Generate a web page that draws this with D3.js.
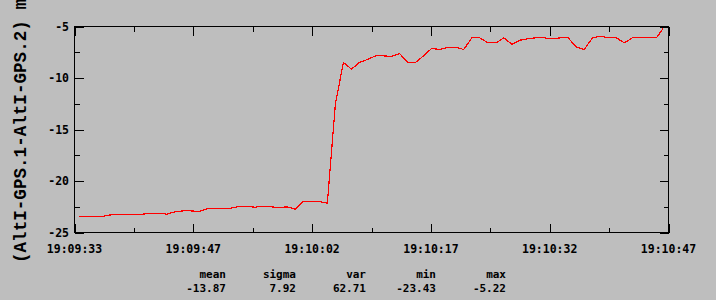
<!DOCTYPE html>
<html>
<head>
<meta charset="utf-8">
<script src="https://cdn.jsdelivr.net/npm/d3@7"></script>
<style>
  html, body { margin: 0; padding: 0; background: #bebebe; }
  svg { display: block; }
</style>
</head>
<body>
<svg id="chart" width="716" height="300"></svg>
<script>
// start of the trace, offsets below are seconds from it
const START = '19:09:33',
      END = '19:10:47';

const offsets = [
  0.5, 1.5, 2.5, 3.5, 4.5, 5.5, 6.5, 7.5, 8.5, 9.5,
  10.5, 11.5, 12.5, 13.5, 14.5, 15.5, 16.5, 17.5, 18.5, 19.5,
  20.5, 21.5, 22.5, 23.5, 24.5, 25.5, 26.5, 27.5, 28.5, 29.5,
  30.5, 31.5, 32.5, 33.5, 34.5, 35.5, 36.5, 37.5, 38.5, 39.5,
  40.5, 41.5, 42.5, 43.5, 44.5, 45.5, 46.5, 47.5, 48.5, 49.5,
  50.5, 51.5, 52.5, 53.5, 54.5, 55.5, 56.5, 57.5, 58.5, 59.5,
  60.5, 61.5, 62.5, 63.5, 64.5, 65.5, 66.5, 67.5, 68.5, 69.5,
  70.5, 71.5, 72.5, 73.3
];

// AltI-GPS.1 - AltI-GPS.2 (m)
const diff = [
  -23.43, -23.43, -23.43, -23.43, -23.29, -23.22, -23.22, -23.22, -23.22, -23.12,
  -23.12, -23.22, -22.99, -22.90, -22.90, -22.97, -22.70, -22.64, -22.64, -22.64,
  -22.48, -22.48, -22.54, -22.44, -22.51, -22.58, -22.51, -22.73, -22.00, -22.00,
  -22.00, -22.15, -12.53, -8.49, -9.14, -8.49, -8.20, -7.85, -7.85, -7.91,
  -7.62, -8.49, -8.49, -7.83, -7.13, -7.23, -7.03, -7.03, -7.23, -6.10,
  -6.10, -6.59, -6.59, -6.10, -6.74, -6.33, -6.18, -6.10, -6.10, -6.20,
  -6.10, -6.10, -6.98, -7.23, -6.13, -5.94, -6.10, -6.10, -6.59, -6.10,
  -6.10, -6.10, -6.10, -5.22
];

const yTicks = [-25, -20, -15, -10, -5];
const yLabel = '(AltI-GPS.1-AltI-GPS.2) m';

const statNames = ['mean', 'sigma', 'var', 'min', 'max'];
const statValues = ['-13.87', '7.92', '62.71', '-23.43', '-5.22'];

const LEFT = 74.5,
      RIGHT = 668.5,
      TOP = 26.5,
      BOTTOM = 232.5,
      MAJOR = 9,
      MINOR = 5,
      SERIF = '"Liberation Mono", "Courier New", monospace',
      SANS = '"DejaVu Sans Mono", monospace';

const parse = d3.timeParse('%H:%M:%S'),
      fmt = d3.timeFormat('%H:%M:%S');
const t0 = parse(START), t1 = parse(END);

const x = d3.scaleTime().domain([t0, t1]).range([LEFT, RIGHT]);
const y = d3.scaleLinear().domain([-25, -5]).range([BOTTOM, TOP]);

// five even steps across the window, labels just cut the seconds
const step = (t1 - t0) / 5;
const xMajor = d3.range(6).map(i => new Date(+t0 + i * step));
const xMinor = d3.range(5).map(i => new Date(+t0 + (i + 0.5) * step));
const yMinor = d3.range(4).map(i => yTicks[i] + 2.5);

const svg = d3.select('#chart');

svg.append('rect')
    .attr('width', 716).attr('height', 300)
    .attr('fill', '#bebebe');

const g = svg.append('g')
    .attr('stroke', '#000')
    .attr('stroke-width', 1)
    .attr('shape-rendering', 'crispEdges');

// ticks on all four sides, pointing inward
function vTicks(vals, len) {
  vals.forEach(v => {
    const px = Math.round(x(v)) + 0.5;
    g.append('line').attr('x1', px).attr('x2', px).attr('y1', BOTTOM).attr('y2', BOTTOM - len);
    g.append('line').attr('x1', px).attr('x2', px).attr('y1', TOP).attr('y2', TOP + len);
  });
}
function hTicks(vals, len) {
  vals.forEach(v => {
    const py = Math.round(y(v)) + 0.5;
    g.append('line').attr('y1', py).attr('y2', py).attr('x1', LEFT).attr('x2', LEFT + len);
    g.append('line').attr('y1', py).attr('y2', py).attr('x1', RIGHT).attr('x2', RIGHT - len);
  });
}
vTicks(xMajor, MAJOR);
vTicks(xMinor, MINOR);
hTicks(yTicks, MAJOR);
hTicks(yMinor, MINOR);

g.append('rect')
    .attr('x', LEFT).attr('y', TOP)
    .attr('width', RIGHT - LEFT).attr('height', BOTTOM - TOP)
    .attr('fill', 'none');

const line = d3.line()
    .x((d, i) => x(new Date(+t0 + offsets[i] * 1000)))
    .y(d => y(d));

svg.append('path')
    .datum(diff)
    .attr('d', line)
    .attr('fill', 'none')
    .attr('stroke', '#ff0000')
    .attr('stroke-width', 1.2)
    .attr('shape-rendering', 'crispEdges');

const txt = svg.append('g')
    .attr('font-family', SANS)
    .attr('font-weight', 'bold')
    .attr('font-size', 11.5)
    .attr('fill', '#000');

txt.selectAll('.xl')
    .data(xMajor)
    .enter().append('text')
    .attr('x', d => x(d))
    .attr('y', 253)
    .attr('text-anchor', 'middle')
    .text(d => fmt(d));

txt.selectAll('.yl')
    .data(yTicks)
    .enter().append('text')
    .attr('x', 69)
    .attr('y', d => y(d) + 4)
    .attr('text-anchor', 'end')
    .text(d => d);

txt.append('text')
    .attr('transform', 'translate(26,263) rotate(-90)')
    .attr('font-family', SERIF)
    .attr('font-size', 17.6)
    .text(yLabel);

statNames.forEach((s, i) => {
  const sx = 226 + i * 70;
  txt.append('text').attr('x', sx).attr('y', 278).attr('text-anchor', 'end')
      .attr('font-size', 11).text(s);
  txt.append('text').attr('x', sx).attr('y', 292).attr('text-anchor', 'end')
      .attr('font-size', 11).text(statValues[i]);
});
</script>
</body>
</html>
